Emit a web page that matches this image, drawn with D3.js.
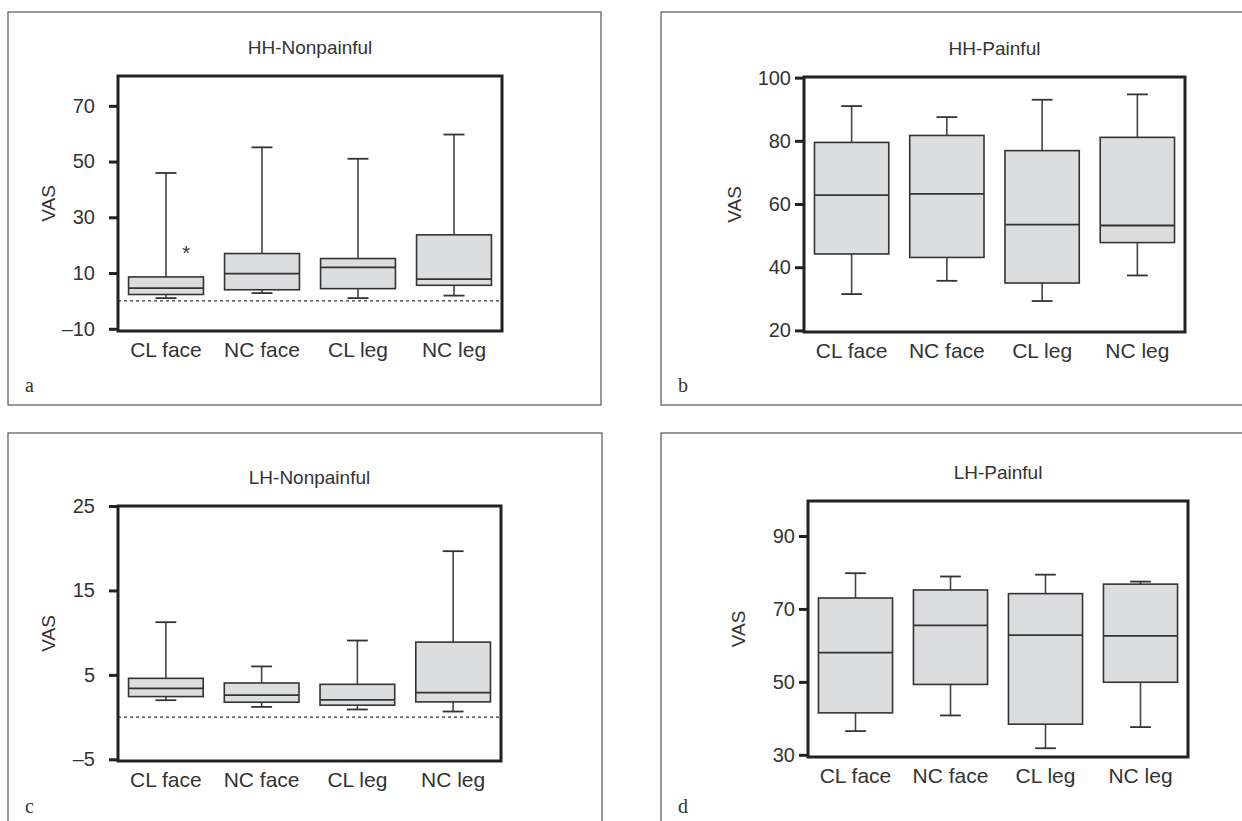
<!DOCTYPE html>
<html>
<head>
<meta charset="utf-8">
<script src="https://cdn.jsdelivr.net/npm/d3@7"></script>
<style>
  body { margin: 0; background: #fff; }
  svg text { font-family: "Liberation Sans", Arial, sans-serif; fill: #333; }
</style>
</head>
<body>
<svg id="stage" width="1242" height="821"></svg>
<script>
var categories = ["CL face", "NC face", "CL leg", "NC leg"];

// each row: [whisker low, Q1, median, Q3, whisker high]
var hhNonpainful = [[1.0, 2.3, 4.6, 8.6, 45.9], [2.8, 4.0, 9.8, 17.0, 55.1], [1.0, 4.4, 12.0, 15.2, 51.0], [1.9, 5.6, 7.8, 23.7, 59.7]];
var hhPainful    = [[31.5, 44.2, 62.8, 79.5, 91.0], [35.7, 43.1, 63.2, 81.7, 87.5], [29.3, 35.0, 53.5, 76.9, 93.0], [37.4, 47.8, 53.2, 81.1, 94.7]];
var lhNonpainful = [[2.0, 2.43, 3.41, 4.59, 11.24], [1.21, 1.76, 2.59, 4.04, 6.0], [0.9, 1.41, 2.04, 3.88, 9.07], [0.66, 1.8, 2.9, 8.88, 19.65]];
var lhPainful    = [[36.5, 41.5, 58.0, 73.0, 79.8], [40.8, 49.3, 65.5, 75.2, 78.9], [31.8, 38.4, 62.8, 74.2, 79.4], [37.6, 49.9, 62.6, 76.8, 77.5]];

// outliers marked with *
var hhNonOutliers = [{cat: "CL face", value: 19}];

var hhNonTicks  = [-10, 10, 30, 50, 70];
var hhPainTicks = [20, 40, 60, 80, 100];
var lhNonTicks  = [-5, 5, 15, 25];
var lhPainTicks = [30, 50, 70, 90];

var titles  = ["HH-Nonpainful", "HH-Painful", "LH-Nonpainful", "LH-Painful"];
var letters = ["a", "b", "c", "d"];

// layout of the four panels (frame = outer thin box, plot = thick axis box)
var panels = [
  {frame: [8, 12, 601, 405],   plot: [118, 76, 502, 331],   domain: [-10.8, 80.7], data: hhNonpainful, ticks: hhNonTicks,  outliers: hhNonOutliers, zero: true,  pad: 14},
  {frame: [661, 12, 1260, 405], plot: [804, 77, 1185, 332], domain: [19.5, 100.2], data: hhPainful,    ticks: hhPainTicks, outliers: [],            zero: false, pad: 4},
  {frame: [8, 433, 602, 840],  plot: [118, 506, 501, 761],  domain: [-5.2, 25],    data: lhNonpainful, ticks: lhNonTicks,  outliers: [],            zero: true,  pad: 14},
  {frame: [661, 433, 1260, 840], plot: [808, 501, 1188, 757], domain: [29.4, 99.6], data: lhPainful,   ticks: lhPainTicks, outliers: [],            zero: false, pad: 4}
];

var svg = d3.select("#stage");

panels.forEach(function(p, i) {

  var g = svg.append("g");

  // outer frame
  g.append("rect")
    .attr("x", p.frame[0]).attr("y", p.frame[1])
    .attr("width", p.frame[2] - p.frame[0])
    .attr("height", p.frame[3] - p.frame[1])
    .attr("fill", "none")
    .attr("stroke", "#555")
    .attr("stroke-width", 1.2);

  var x = d3.scaleBand()
    .domain(categories)
    .range([p.plot[0], p.plot[2]])
    .padding(0);

  var y = d3.scaleLinear()
    .domain(p.domain)
    .range([p.plot[3], p.plot[1]]);

  var bw = x.bandwidth() * 0.78;
  var capW = bw * 0.28;

  // zero reference line
  if (p.zero) {
    g.append("line")
      .attr("x1", p.plot[0]).attr("x2", p.plot[2])
      .attr("y1", y(0)).attr("y2", y(0))
      .attr("stroke", "#333")
      .attr("stroke-width", 1.3)
      .attr("stroke-dasharray", "3,3");
  }

  var box = g.selectAll(".box")
    .data(p.data)
    .enter()
    .append("g")
    .attr("class", "box")
    .attr("transform", function(d, j) {
      return "translate(" + (x(categories[j]) + x.bandwidth() / 2) + ",0)";
    });

  // whiskers
  box.append("line")
    .attr("x1", 0).attr("x2", 0)
    .attr("y1", function(d) { return y(d[0]); })
    .attr("y2", function(d) { return y(d[1]); })
    .attr("stroke", "#444").attr("stroke-width", 1.6);
  box.append("line")
    .attr("x1", 0).attr("x2", 0)
    .attr("y1", function(d) { return y(d[3]); })
    .attr("y2", function(d) { return y(d[4]); })
    .attr("stroke", "#444").attr("stroke-width", 1.6);
  box.append("line")
    .attr("x1", -capW / 2).attr("x2", capW / 2)
    .attr("y1", function(d) { return y(d[0]); })
    .attr("y2", function(d) { return y(d[0]); })
    .attr("stroke", "#333").attr("stroke-width", 1.8);
  box.append("line")
    .attr("x1", -capW / 2).attr("x2", capW / 2)
    .attr("y1", function(d) { return y(d[4]); })
    .attr("y2", function(d) { return y(d[4]); })
    .attr("stroke", "#333").attr("stroke-width", 1.8);

  // box Q1-Q3
  box.append("rect")
    .attr("x", -bw / 2)
    .attr("width", bw)
    .attr("y", function(d) { return y(d[3]); })
    .attr("height", function(d) { return y(d[1]) - y(d[3]); })
    .attr("fill", "#dcdddf")
    .attr("stroke", "#333")
    .attr("stroke-width", 1.6);

  // median
  box.append("line")
    .attr("x1", -bw / 2).attr("x2", bw / 2)
    .attr("y1", function(d) { return y(d[2]); })
    .attr("y2", function(d) { return y(d[2]); })
    .attr("stroke", "#333").attr("stroke-width", 1.8);

  // outliers
  g.selectAll(".outlier")
    .data(p.outliers)
    .enter()
    .append("text")
    .attr("class", "outlier")
    .attr("x", function(d) { return x(d.cat) + x.bandwidth() * 0.71; })
    .attr("y", function(d) { return y(d.value); })
    .attr("dy", "0.6em")
    .attr("text-anchor", "middle")
    .style("font-size", "20px")
    .text("*");

  // y axis
  var yAxis = d3.axisLeft(y)
    .tickValues(p.ticks)
    .tickSize(9)
    .tickPadding(p.pad)
    .tickFormat(function(d) { return d < 0 ? "\u2013" + Math.abs(d) : d; });

  var gy = g.append("g")
    .attr("transform", "translate(" + p.plot[0] + ",0)")
    .call(yAxis);
  gy.select(".domain").remove();
  gy.selectAll(".tick line").attr("stroke", "#222").attr("stroke-width", 3);
  gy.selectAll(".tick text")
    .style("font-size", "20px")
    .attr("fill", "#333")
    .attr("font-family", null);
  gy.attr("font-family", null);

  // x labels
  g.selectAll(".xlab")
    .data(categories)
    .enter()
    .append("text")
    .attr("x", function(d) { return x(d) + x.bandwidth() / 2; })
    .attr("y", p.plot[3] + 26)
    .attr("text-anchor", "middle")
    .style("font-size", "21px")
    .text(function(d) { return d; });

  // thick plot box
  g.append("rect")
    .attr("x", p.plot[0]).attr("y", p.plot[1])
    .attr("width", p.plot[2] - p.plot[0])
    .attr("height", p.plot[3] - p.plot[1])
    .attr("fill", "none")
    .attr("stroke", "#222")
    .attr("stroke-width", 3);

  // y title
  var cy = (p.plot[1] + p.plot[3]) / 2;
  g.append("text")
    .attr("transform", "translate(" + (p.plot[0] - 70) + "," + cy + ") rotate(-90)")
    .attr("text-anchor", "middle")
    .attr("dy", "0.35em")
    .style("font-size", "19px")
    .text("VAS");

  // panel title
  g.append("text")
    .attr("x", (p.plot[0] + p.plot[2]) / 2)
    .attr("y", p.plot[1] - 22)
    .attr("text-anchor", "middle")
    .style("font-size", "19px")
    .text(titles[i]);

  // panel letter
  g.append("text")
    .attr("x", p.frame[0] + 17)
    .attr("y", p.frame[1] + 380)
    .style("font-family", "'Liberation Serif', 'Times New Roman', serif")
    .style("font-size", "20px")
    .text(letters[i]);
});
</script>
</body>
</html>
